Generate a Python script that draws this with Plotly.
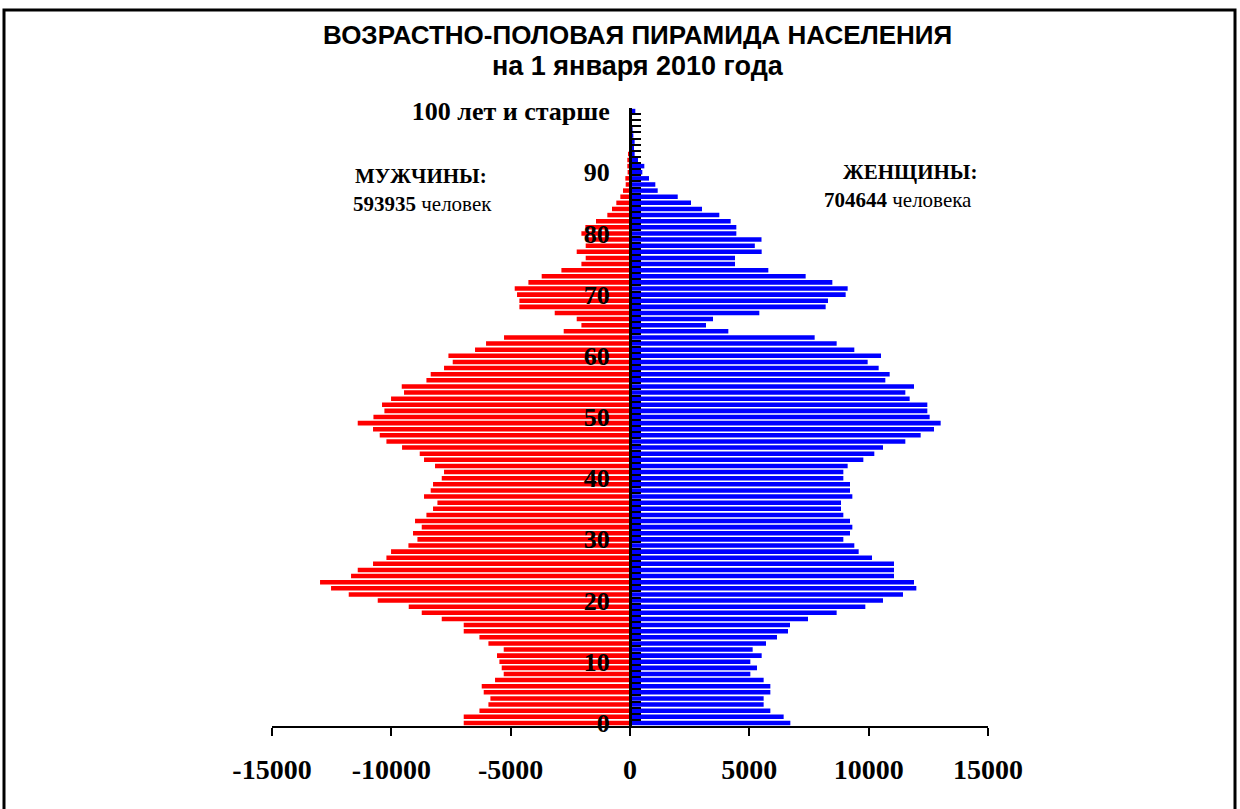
import plotly.graph_objects as go

ages = list(range(0, 101))

men = [6967, 6967, 6309, 5932, 5849, 6129, 6213, 5655, 5291, 5375,
       5472, 5572, 5291, 5932, 6309, 6967, 6967, 7888, 8726, 9271,
       10570, 11785, 12526, 12987, 11688, 11408, 10767, 10206, 10012, 9284,
       8907, 9091, 8726, 9007, 8530, 8253, 8069, 8630, 8350, 8253,
       7888, 7792, 8169, 8630, 8810, 9551, 10206, 10486, 10767, 11408,
       10750, 10290, 10390, 10012, 9468, 9564, 8530, 8350, 7792, 7428,
       7608, 6493, 6032, 5278, 2778, 2036, 2233, 3154, 4635, 4635,
       4733, 4830, 4257, 3700, 2874, 2036, 1856, 2233, 1856, 1856,
       2036, 1870, 1424, 950, 754, 573, 405, 293, 180, 195,
       100, 112, 112, 50, 40, 30, 25, 15, 10, 5, 20]

women = [6718, 6438, 5880, 5600, 5600, 5880, 5880, 5600, 5042, 5321,
         5042, 5517, 5140, 5698, 6159, 6620, 6704, 7458, 8659, 9860,
         10600, 11438, 11997, 11899, 11061, 11061, 11061, 10140, 9581, 9399,
         8939, 9218, 9316, 9218, 8939, 8841, 8841, 9316, 9218, 9218,
         8939, 8939, 9120, 9777, 10237, 10600, 11536, 12179, 12737, 13017,
         12556, 12458, 12458, 11718, 11536, 11899, 10698, 10880, 10419, 9958,
         10517, 9399, 8659, 7737, 4120, 3184, 3478, 5419, 8198, 8296,
         9036, 9120, 8478, 7360, 5796, 4400, 4400, 5517, 5230, 5510,
         4455, 4455, 4218, 3742, 3017, 2556, 2000, 1160, 1061, 796,
         516, 600, 335, 195, 167, 195, 140, 110, 70, 60, 223]

x_ticks = [-15000, -10000, -5000, 0, 5000, 10000, 15000]
x_ticktext = ["-15000", "-10000", "-5000", "0", "5000", "10000", "15000"]
y_label_vals = [0, 10, 20, 30, 40, 50, 60, 70, 80, 90, 100]
y_label_text = ["0", "10", "20", "30", "40", "50", "60", "70", "80", "90", "100 лет и старше"]

title1 = "ВОЗРАСТНО-ПОЛОВАЯ ПИРАМИДА НАСЕЛЕНИЯ"
title2 = "на 1 января 2010 года"
men_total = 593935
women_total = 704644

W, H = 1240, 809
L, R, T, B = 272, 988, 108, 726


def px(xp):
    return (xp - L) / (R - L)


def py(yp):
    return (B - yp) / (B - T)


fig = go.Figure()
fig.add_trace(go.Bar(y=ages, x=[-v for v in men], orientation="h",
                     marker=dict(color="#FF0000", line=dict(width=0)),
                     width=0.74, name="Мужчины"))
fig.add_trace(go.Bar(y=ages, x=women, orientation="h",
                     marker=dict(color="#0000FF", line=dict(width=0)),
                     width=0.74, name="Женщины"))

serif = "Liberation Serif"

fig.update_layout(
    width=W, height=H,
    margin=dict(l=L, r=W - R, t=T, b=H - B, pad=0),
    paper_bgcolor="white", plot_bgcolor="white",
    barmode="overlay", showlegend=False,
    xaxis=dict(range=[-15000, 15000], tickvals=x_ticks, ticktext=x_ticktext,
               showgrid=False, zeroline=False, showline=True,
               linecolor="black", linewidth=2, ticks="outside", ticklen=8,
               tickwidth=2, tickcolor="black", ticklabelstandoff=9,
               tickfont=dict(family=serif, size=28, color="black", weight="bold")),
    yaxis=dict(range=[-0.5, 100.5], anchor="free", position=0.5,
               tickmode="array", tickvals=y_label_vals, ticktext=y_label_text,
               showgrid=False, zeroline=False, showline=True,
               linecolor="black", linewidth=3, ticks="inside", ticklen=0,
               ticklabelstandoff=14,
               tickfont=dict(family=serif, size=26, color="black", weight="bold"),
               minor=dict(tickmode="array",
                          tickvals=[a - 0.5 for a in ages] + [100.5],
                          ticks="inside", ticklen=9, tickwidth=2,
                          tickcolor="black", showgrid=False)),
)

ann = []
ann.append(dict(text="<b>" + title1 + "</b>", x=px(637), y=py(35), xref="paper", yref="paper",
                showarrow=False, xanchor="center", yanchor="middle",
                font=dict(family="Liberation Sans", size=26, color="black")))
ann.append(dict(text="<b>" + title2 + "</b>", x=px(638), y=py(66), xref="paper", yref="paper",
                showarrow=False, xanchor="center", yanchor="middle",
                font=dict(family="Liberation Sans", size=27, color="black")))
ann.append(dict(text="<b>МУЖЧИНЫ:</b>", x=px(421), y=py(176), xref="paper", yref="paper",
                showarrow=False, xanchor="center", yanchor="middle",
                font=dict(family=serif, size=21, color="black")))
ann.append(dict(text="<b>%d</b> человек" % men_total, x=px(422), y=py(204), xref="paper", yref="paper",
                showarrow=False, xanchor="center", yanchor="middle",
                font=dict(family=serif, size=21, color="black")))
ann.append(dict(text="<b>ЖЕНЩИНЫ:</b>", x=px(910), y=py(172), xref="paper", yref="paper",
                showarrow=False, xanchor="center", yanchor="middle",
                font=dict(family=serif, size=21, color="black")))
ann.append(dict(text="<b>%d</b> человека" % women_total, x=px(898), y=py(200), xref="paper", yref="paper",
                showarrow=False, xanchor="center", yanchor="middle",
                font=dict(family=serif, size=21, color="black")))
fig.update_layout(annotations=ann)

fig.add_shape(type="rect", xref="paper", yref="paper",
              x0=px(4), x1=px(1235), y0=py(820), y1=py(10),
              line=dict(color="black", width=3), fillcolor="rgba(0,0,0,0)", layer="above")

fig.write_html("out.html", config={"displayModeBar": False},
               post_script="document.body.style.margin='0';")
